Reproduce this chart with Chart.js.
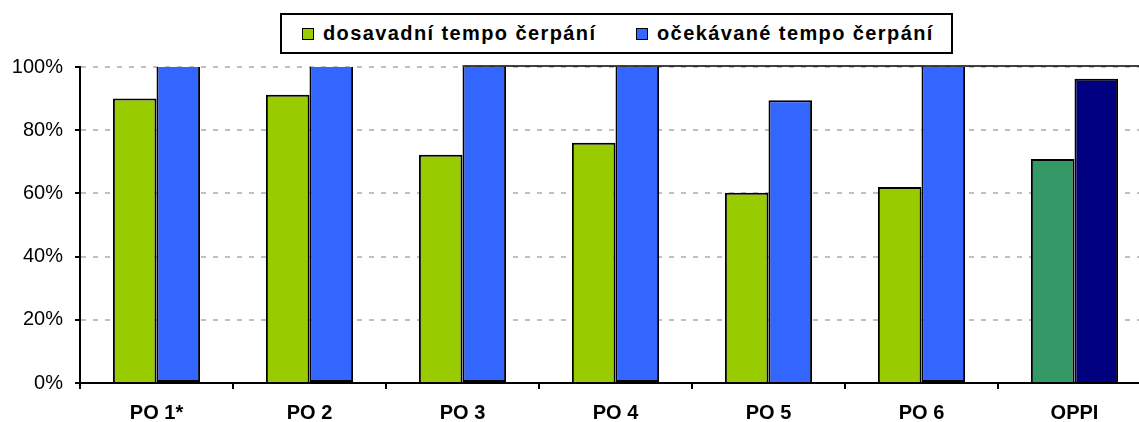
<!DOCTYPE html>
<html>
<head>
<meta charset="utf-8">
<script src="https://cdn.jsdelivr.net/npm/chart.js@4/dist/chart.umd.min.js"></script>
<style>
    html, body { margin: 0; padding: 0; background: #fff; overflow: hidden; }
    #wrap { position: relative; width: 1139px; height: 422px; overflow: hidden; }
    #box { position: absolute; left: 0; top: 0; width: 1160px; height: 422px; }
    #legend {
        position: absolute; left: 280px; top: 13px; width: 673px; height: 41px;
        box-sizing: border-box; border: 2px solid #000; background: #fff;
        font: bold 20px "Liberation Sans", Arial, sans-serif; letter-spacing: 1.4px; color: #000;
    }
    .legend-item { position: absolute; top: 0; height: 37px; display: flex; align-items: center; white-space: nowrap; }
    .legend-dot { width: 10px; height: 10px; border: 1.5px solid #000; margin-right: 9px; }
</style>
</head>
<body>
<div id="wrap">
    <div id="box"><canvas id="chart"></canvas></div>
    <div id="legend"></div>
</div>
<script>
// Categories and values (percent)
const categories = ['PO 1*', 'PO 2', 'PO 3', 'PO 4', 'PO 5', 'PO 6', 'OPPI'];
const dosavadniTempo = [90, 91.2, 72.2, 76, 60.2, 62, 70.9];
const ocekavaneTempo = [100, 100, 100, 100, 89.5, 100, 96.3];
const yTicks = [0, 20, 40, 60, 80, 100];

const seriesNames = ['dosavadní tempo čerpání', 'očekávané tempo čerpání'];

const COLORS = {
    green: '#99cc00',
    blue: '#3366ff',
    oppiGreen: '#339966',
    oppiBlue: '#000080',
};

// last category (OPPI) uses its own darker pair of colours
const greenFill = categories.map(c => c === 'OPPI' ? COLORS.oppiGreen : COLORS.green);
const blueFill = categories.map(c => c === 'OPPI' ? COLORS.oppiBlue : COLORS.blue);

const FONT = '"Liberation Sans", Arial, sans-serif';

// bars that run past the top of the axis lose their top edge, like in the original
const skipEdge = (ctx) => (ctx.raw >= yTicks[yTicks.length - 1] ? 'top' : 'start');

// solid top edge of the plot area, visible on the right half only
const topEdge = {
    id: 'topEdge',
    beforeDatasetsDraw(chart) {
        const { ctx, chartArea, scales } = chart;
        const x0 = scales.x.getPixelForValue(2);
        ctx.save();
        ctx.strokeStyle = '#000';
        ctx.lineWidth = 1.5;
        ctx.beginPath();
        ctx.moveTo(x0, chartArea.top - 1);
        ctx.lineTo(chartArea.right, chartArea.top - 1);
        ctx.stroke();
        ctx.restore();
    },
};

new Chart(document.getElementById('chart'), {
    type: 'bar',
    data: {
        labels: categories,
        datasets: [{
            label: seriesNames[0],
            data: dosavadniTempo,
            backgroundColor: greenFill,
            borderColor: '#000',
            borderWidth: 2,
            borderSkipped: skipEdge,
        }, {
            label: seriesNames[1],
            data: ocekavaneTempo,
            backgroundColor: blueFill,
            borderColor: '#000',
            borderWidth: 2,
            borderSkipped: skipEdge,
        }],
    },
    options: {
        responsive: true,
        maintainAspectRatio: false,
        animation: false,
        datasets: { bar: { categoryPercentage: 0.57, barPercentage: 1.0 } },
        layout: { padding: { top: 67, right: 9, left: 0, bottom: 0 } },
        plugins: {
            legend: { display: false },
            tooltip: { enabled: false },
        },
        scales: {
            x: {
                afterFit: (s) => { s.height = 39; },
                grid: {
                    offset: true,
                    drawOnChartArea: false,
                    tickLength: 6,
                    color: '#000',
                    lineWidth: 2,
                },
                border: { color: '#000', width: 2 },
                ticks: {
                    color: '#000',
                    padding: 12,
                    font: { family: FONT, size: 20, weight: 'bold' },
                },
            },
            y: {
                min: yTicks[0],
                max: yTicks[yTicks.length - 1],
                afterFit: (s) => { s.width = 80; },
                afterBuildTicks: (s) => { s.ticks = yTicks.map(v => ({ value: v })); },
                grid: {
                    color: '#c0c0c0',
                    lineWidth: 2,
                    tickLength: 5,
                    tickColor: '#000',
                    tickWidth: 2,
                    tickBorderDash: [],
                },
                border: { color: '#000', width: 2, dash: [5, 7] },
                ticks: {
                    color: '#000',
                    padding: 12,
                    font: { family: FONT, size: 20 },
                    callback: (v) => v + '%',
                },
            },
        },
    },
    plugins: [topEdge],
});

// HTML legend in a bordered box
const legendColors = [COLORS.green, COLORS.blue];
const legendOffsets = [20, 354];
document.getElementById('legend').innerHTML = seriesNames.map((name, i) => `
    <div class="legend-item" style="left:${legendOffsets[i]}px">
        <div class="legend-dot" style="background:${legendColors[i]}"></div>
        <span>${name}</span>
    </div>`).join('');
</script>
</body>
</html>
